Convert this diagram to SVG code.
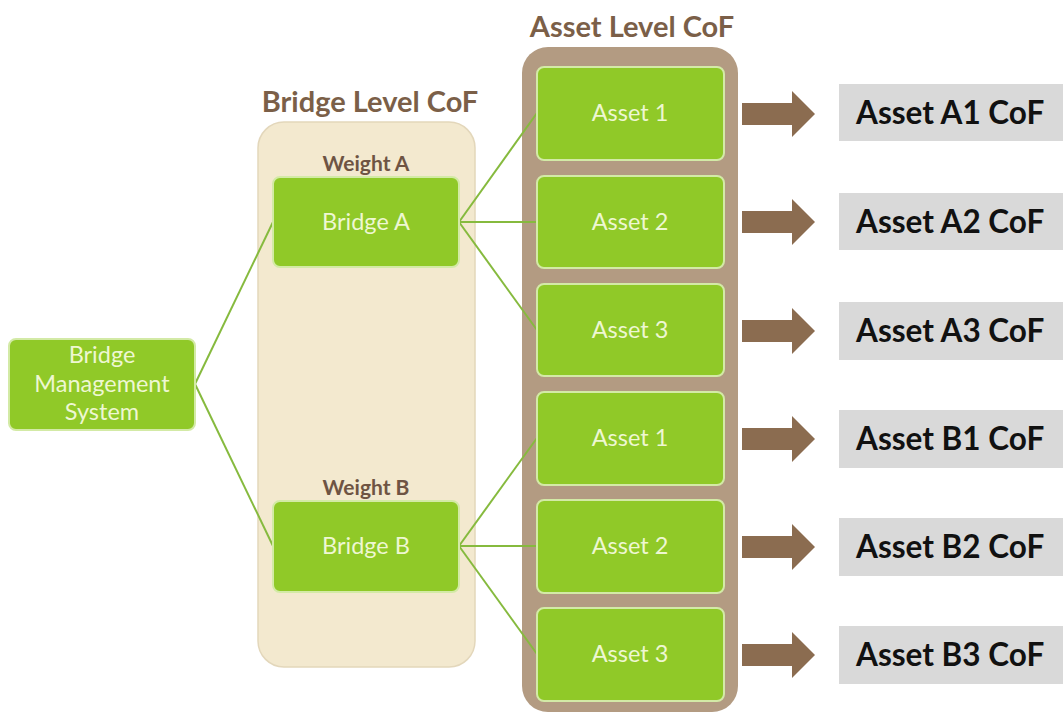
<svg xmlns="http://www.w3.org/2000/svg" width="1063" height="715" viewBox="0 0 1063 715">
<style>
.title{font-family:Lato,"Liberation Sans",sans-serif;font-weight:bold;font-size:29px;fill:#7b5f48;text-anchor:middle}
.weight{font-family:Lato,"Liberation Sans",sans-serif;font-weight:bold;font-size:21px;fill:#6e5443;text-anchor:middle}
.gbox{fill:#90c928;stroke:#d3eaa6;stroke-width:2}
.gtxt{font-family:Lato,"Liberation Sans",sans-serif;font-size:23.5px;fill:#eef7d2;text-anchor:middle}
.out{fill:#d9d9d9}
.otxt{font-family:Lato,"Liberation Sans",sans-serif;font-weight:bold;font-size:31.5px;fill:#111}
.arrow{fill:#8b6c50}
.conn line{stroke:#86ba3e;stroke-width:2}
</style>
<rect width="1063" height="715" fill="#ffffff"/>
<g id="bridge-level">
<rect x="258" y="122" width="217" height="545" rx="26" fill="#f3e9cf" stroke="#e3d7bb" stroke-width="1.5"/>
<text class="title" x="370" y="112">Bridge Level CoF</text>
<text class="weight" x="366" y="171">Weight A</text>
<text class="weight" x="366" y="495">Weight B</text>
</g>
<g id="asset-level">
<rect x="522" y="47" width="216" height="665" rx="26" fill="#b39b82"/>
<text class="title" x="632" y="37">Asset Level CoF</text>
</g>
<g class="conn" id="connectors">
<line x1="195" y1="384" x2="273" y2="222"/>
<line x1="195" y1="384" x2="273" y2="546"/>
<line x1="459" y1="222" x2="537" y2="113"/>
<line x1="459" y1="222" x2="537" y2="222"/>
<line x1="459" y1="222" x2="537" y2="330"/>
<line x1="459" y1="546" x2="537" y2="438"/>
<line x1="459" y1="546" x2="537" y2="546"/>
<line x1="459" y1="546" x2="537" y2="654"/>
</g>
<g id="bms">
<rect class="gbox" x="9" y="339" width="186" height="91" rx="7"/>
<text class="gtxt" x="102" y="363">Bridge</text>
<text class="gtxt" x="102" y="392">Management</text>
<text class="gtxt" x="102" y="420">System</text>
</g>
<g id="bridge-a">
<rect class="gbox" x="273" y="177" width="186" height="90" rx="7"/>
<text class="gtxt" x="366" y="230">Bridge A</text>
</g>
<g id="bridge-b">
<rect class="gbox" x="273" y="501" width="186" height="91" rx="7"/>
<text class="gtxt" x="366" y="554">Bridge B</text>
</g>
<g id="asset-a1"><rect class="gbox" x="537" y="67" width="187" height="93" rx="7"/><text class="gtxt" x="630" y="121">Asset 1</text></g>
<g id="asset-a2"><rect class="gbox" x="537" y="176" width="187" height="92" rx="7"/><text class="gtxt" x="630" y="230">Asset 2</text></g>
<g id="asset-a3"><rect class="gbox" x="537" y="284" width="187" height="92" rx="7"/><text class="gtxt" x="630" y="338">Asset 3</text></g>
<g id="asset-b1"><rect class="gbox" x="537" y="392" width="187" height="93" rx="7"/><text class="gtxt" x="630" y="446">Asset 1</text></g>
<g id="asset-b2"><rect class="gbox" x="537" y="500" width="187" height="93" rx="7"/><text class="gtxt" x="630" y="554">Asset 2</text></g>
<g id="asset-b3"><rect class="gbox" x="537" y="608" width="187" height="93" rx="7"/><text class="gtxt" x="630" y="662">Asset 3</text></g>
<defs>
<path id="arr" d="M0,-11 H50 V-23 L73,0 L50,23 V11 H0 Z"/>
</defs>
<g id="arrows">
<use href="#arr" class="arrow" x="742" y="114"/>
<use href="#arr" class="arrow" x="742" y="222"/>
<use href="#arr" class="arrow" x="742" y="331"/>
<use href="#arr" class="arrow" x="742" y="439"/>
<use href="#arr" class="arrow" x="742" y="547"/>
<use href="#arr" class="arrow" x="742" y="655"/>
</g>
<g id="out-a1"><rect class="out" x="839" y="84" width="224" height="57"/><text class="otxt" x="856" y="124">Asset A1 CoF</text></g>
<g id="out-a2"><rect class="out" x="839" y="193" width="224" height="57"/><text class="otxt" x="856" y="233">Asset A2 CoF</text></g>
<g id="out-a3"><rect class="out" x="839" y="302" width="224" height="58"/><text class="otxt" x="856" y="342">Asset A3 CoF</text></g>
<g id="out-b1"><rect class="out" x="839" y="410" width="224" height="58"/><text class="otxt" x="856" y="450">Asset B1 CoF</text></g>
<g id="out-b2"><rect class="out" x="839" y="518" width="224" height="58"/><text class="otxt" x="856" y="558">Asset B2 CoF</text></g>
<g id="out-b3"><rect class="out" x="839" y="626" width="224" height="58"/><text class="otxt" x="856" y="666">Asset B3 CoF</text></g>
</svg>
